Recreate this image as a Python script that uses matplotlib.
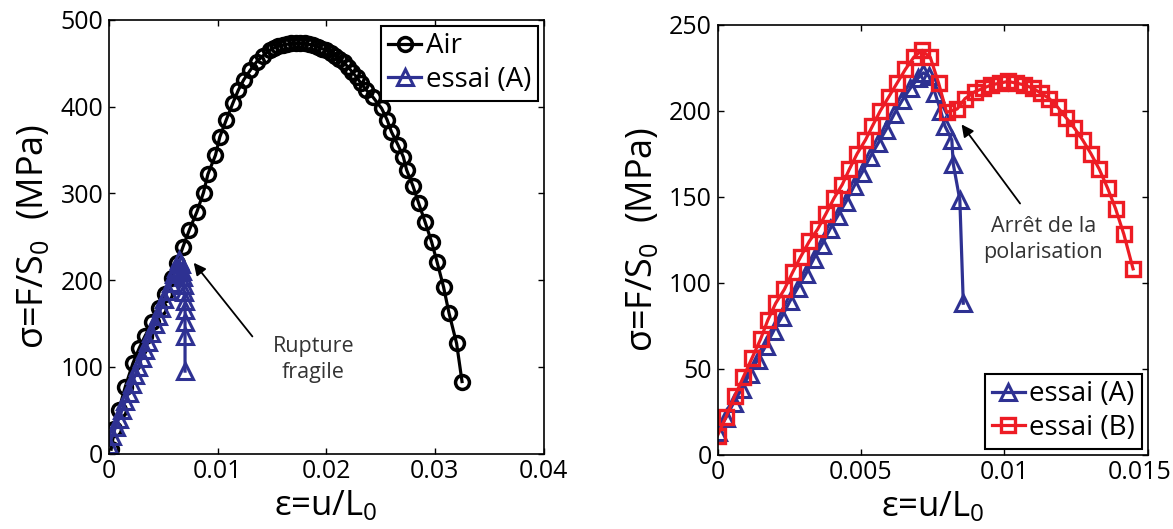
import numpy as np
import matplotlib
matplotlib.use('Agg')
from matplotlib import pyplot as plt
from matplotlib.transforms import ScaledTranslation

plt.rcParams['font.family'] = ['Open Sans', 'DejaVu Sans']
plt.rcParams['mathtext.fontset'] = 'custom'
plt.rcParams['mathtext.rm'] = 'Open Sans'
plt.rcParams['mathtext.default'] = 'regular'

# left panel : air test and test (A)
air_x = [0.0002, 0.0005, 0.0009, 0.0015, 0.0022, 0.0028, 0.0033, 0.0040, 0.0046, 0.0052,
         0.0058, 0.0063, 0.0068, 0.0074, 0.0081, 0.0087, 0.0091, 0.0098, 0.0102, 0.0108,
         0.0114, 0.0119, 0.0124, 0.0130, 0.0136, 0.0142, 0.0148, 0.0152, 0.0156, 0.0160,
         0.0164, 0.0168, 0.0172, 0.0176, 0.0180, 0.0184, 0.0188, 0.0192, 0.0196, 0.0200,
         0.0204, 0.0208, 0.0212, 0.0216, 0.0220, 0.0224, 0.0228, 0.0232, 0.0237, 0.0243,
         0.0251, 0.0256, 0.0260, 0.0266, 0.0271, 0.0274, 0.0280, 0.0285, 0.0291, 0.0297,
         0.0302, 0.0308, 0.0313, 0.0320, 0.0325]
air_y = [5, 28, 50, 77, 104, 122, 135, 152, 168, 184,
         202, 220, 238, 258, 279, 301, 322, 344, 365, 385,
         404, 419, 431, 442, 452, 459, 465, 468, 470, 471,
         472, 473, 473, 473, 473, 472, 471, 469, 467, 465,
         462, 459, 455, 451, 446, 440, 434, 427, 419, 411,
         398, 385, 371, 356, 342, 327, 308, 289, 267, 244,
         221, 192, 162, 127, 83]

a1_x = [0, 0.0003, 0.0006, 0.0009, 0.0012, 0.0015, 0.0018, 0.0021, 0.0024, 0.0027,
        0.0030, 0.0033, 0.0036, 0.0039, 0.0042, 0.0045, 0.0048, 0.0051, 0.0054, 0.0057,
        0.0060, 0.0062, 0.0064, 0.0066, 0.0067, 0.0068, 0.0069, 0.0069, 0.0070, 0.0070,
        0.0070, 0.0070, 0.0070]
a1_y = [10, 20, 30, 40, 50, 60, 70, 80, 90, 100,
        110, 119, 129, 139, 149, 159, 168, 178, 188, 197,
        207, 214, 223, 219, 211, 203, 194, 186, 176, 166,
        152, 135, 95]

# right panel : test (A) and test (B)
a2_x = [0, 0.00028, 0.00056, 0.00084, 0.00112, 0.0014, 0.00168, 0.00196, 0.00224, 0.00252,
        0.0028, 0.00308, 0.00336, 0.00364, 0.00392, 0.0042, 0.00448, 0.00476, 0.00504, 0.00532,
        0.0056, 0.00588, 0.00616, 0.00644, 0.00672, 0.007, 0.00718, 0.00738, 0.00759, 0.00778,
        0.00793, 0.00817, 0.00822, 0.00845, 0.00857]
a2_y = [13, 21, 30, 38, 47, 55, 63, 72, 80, 89,
        97, 105, 114, 122, 131, 139, 147, 156, 164, 173,
        181, 189, 198, 206, 213, 219, 222, 220, 210, 200,
        191, 183, 169, 148, 88]

b_x = [0, 0.0003, 0.0006, 0.0009, 0.0012, 0.0015, 0.00175, 0.00203, 0.00233, 0.00262,
       0.0029, 0.0032, 0.00349, 0.00378, 0.00406, 0.00435, 0.0046, 0.00487, 0.00516, 0.0054,
       0.00568, 0.00597, 0.00626, 0.00655, 0.00684, 0.00712, 0.00742, 0.00771, 0.00799, 0.00836,
       0.00863, 0.00897, 0.00926, 0.00955, 0.00984, 0.01013, 0.01042, 0.0107, 0.011, 0.01129,
       0.01157, 0.01186, 0.01215, 0.01244, 0.01273, 0.01302, 0.01331, 0.0136, 0.01388, 0.01417,
       0.01449]
b_y = [11, 22, 34, 45, 56, 67, 78, 88, 96, 106,
       115, 124, 131, 140, 149, 157, 166, 175, 183, 191,
       200, 208, 216, 224, 231, 235, 231, 216, 199, 201,
       207, 211, 213, 215, 216, 217, 216, 215, 213, 210,
       207, 202, 196, 190, 183, 175, 166, 155, 143, 128,
       108]

xt1 = [0, 0.01, 0.02, 0.03, 0.04]
xt1_lab = ['0', '0.01', '0.02', '0.03', '0.04']
yt1 = [0, 100, 200, 300, 400, 500]
xt2 = [0, 0.005, 0.01, 0.015]
xt2_lab = ['0', '0.005', '0.01', '0.015']
yt2 = [0, 50, 100, 150, 200, 250]

BLUE = '#2E3192'
RED = '#ED1C24'

fig = plt.figure(figsize=(11.73, 5.29), dpi=100)
ax1 = fig.add_axes([109/1173., (529-453.5)/529., 434.5/1173., 433.5/529.])
ax2 = fig.add_axes([717.5/1173., (529-454.5)/529., 430.2/1173., 429.8/529.])

ax1.plot(air_x, air_y, color='k', lw=2.3, marker='o', ms=10, mew=2.5,
         mfc='none', label='Air')
ax1.plot(a1_x, a1_y, color=BLUE, lw=2.3, marker='^', ms=12, mew=2.2,
         mfc='none', label='essai (A)')
ax2.plot(a2_x, a2_y, color=BLUE, lw=2.3, marker='^', ms=12, mew=2.2,
         mfc='none', label='essai (A)')
ax2.plot(b_x, b_y, color=RED, lw=2.3, marker='s', ms=10, mew=2.4,
         mfc='none', label='essai (B)')

ax1.set_xlim(0, 0.04)
ax1.set_ylim(0, 500)
ax2.set_xlim(0, 0.015)
ax2.set_ylim(0, 250)
ax1.set_xticks(xt1)
ax1.set_xticklabels(xt1_lab)
ax1.set_yticks(yt1)
ax2.set_xticks(xt2)
ax2.set_xticklabels(xt2_lab)
ax2.set_yticks(yt2)

for ax in (ax1, ax2):
    ax.tick_params(direction='in', top=True, right=True, length=4.5, width=1,
                   labelsize=18, pad=4)
    for s in ax.spines.values():
        s.set_linewidth(1.2)
    ax.set_xlabel('ε=u/L$_0$', fontsize=25, labelpad=3)
    ax.set_ylabel('σ=F/S$_0$  (MPa)', fontsize=26)
    ax.yaxis.set_label_coords(-0.131, 0.5)

# last tick label of the right panel sits on the figure edge
last = ax2.get_xticklabels()[-1]
last.set_transform(last.get_transform() + ScaledTranslation(-8/100., 0, fig.dpi_scale_trans))

leg_kw = dict(fontsize=20, frameon=True, fancybox=False, framealpha=1,
              edgecolor='k', handlelength=1.2, handletextpad=0.15,
              borderaxespad=0.2, labelspacing=0.2, borderpad=0.25)
l1 = ax1.legend(loc='upper right', **leg_kw)
l2 = ax2.legend(loc='lower right', **leg_kw)
for l in (l1, l2):
    l.get_frame().set_linewidth(1.5)

arrow = dict(arrowstyle='-|>', color='k', lw=1.3, mutation_scale=18,
             shrinkA=0, shrinkB=0)
ax1.annotate('', xy=(0.0078, 220), xytext=(0.0132, 135), arrowprops=arrow)
ax1.text(0.0188, 108, 'Rupture\nfragile', fontsize=15.5, color='#333333',
         ha='center', va='center', linespacing=1.3)
ax2.annotate('', xy=(0.00851, 192), xytext=(0.01055, 146), arrowprops=arrow)
ax2.text(0.01136, 125, 'Arrêt de la\npolarisation', fontsize=15.5, color='#333333',
         ha='center', va='center', linespacing=1.3)

fig.savefig('out.png', dpi=100)
